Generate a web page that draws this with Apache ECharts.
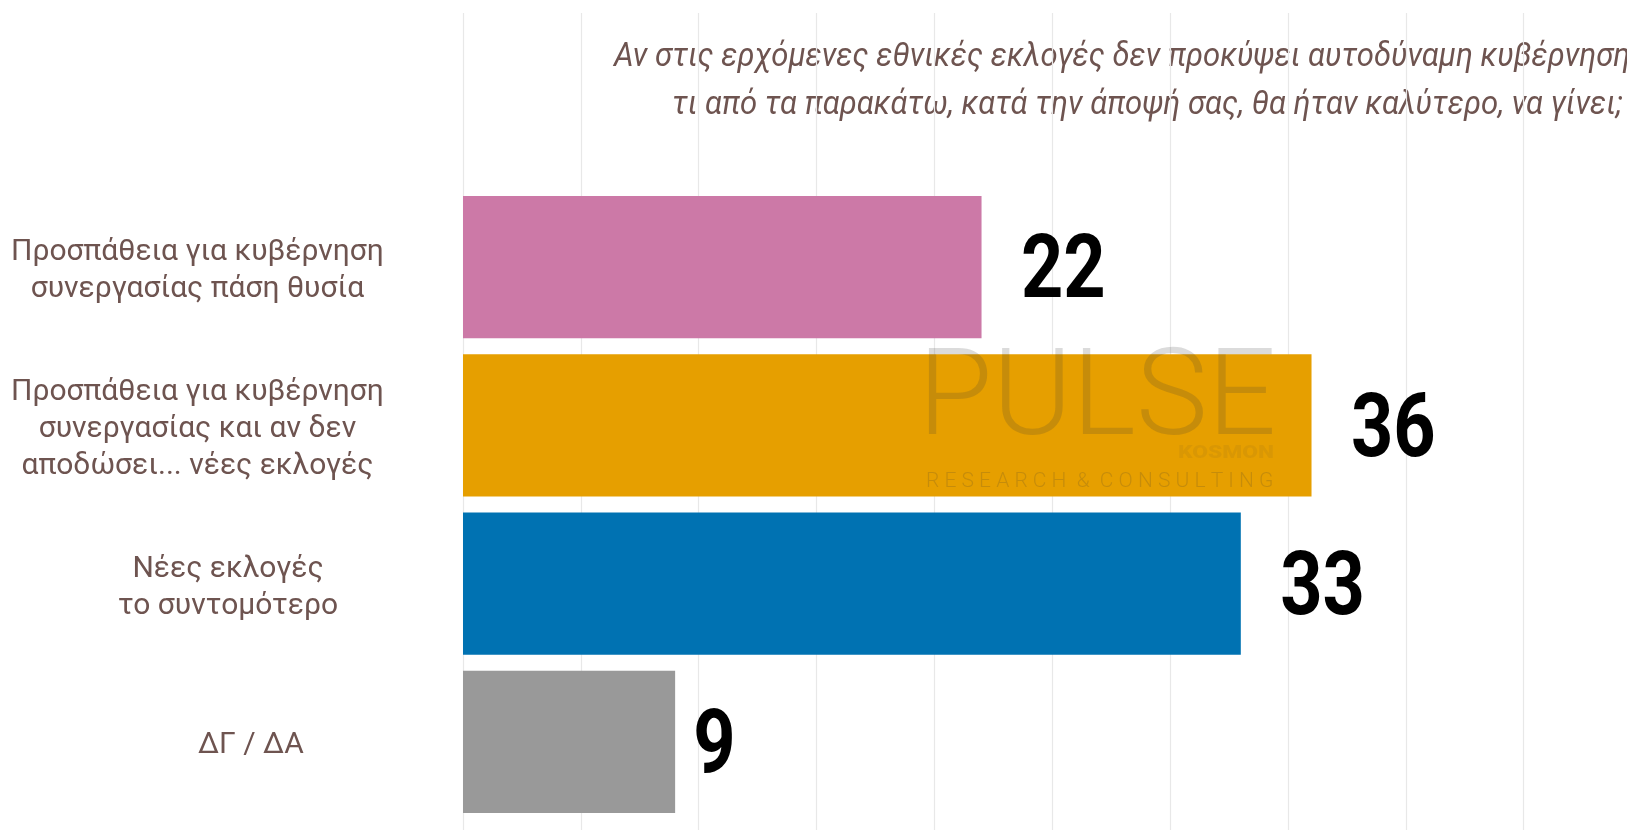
<!DOCTYPE html>
<html lang="el">
<head>
    <meta charset="UTF-8">
    <title>Pulse</title>
    <script src="https://cdn.jsdelivr.net/npm/echarts@6/dist/echarts.min.js"></script>
    <style>
        html, body { margin: 0; padding: 0; background: #fff; }
        #main { width: 1627px; height: 830px; }
    </style>
</head>
<body>
<div id="main"></div>
<script type="text/javascript">
    // data
    var categories = [
        'Προσπάθεια για κυβέρνηση\nσυνεργασίας πάση θυσία',
        'Προσπάθεια για κυβέρνηση\nσυνεργασίας και αν δεν\nαποδώσει... νέες εκλογές',
        'Νέες εκλογές\nτο συντομότερο',
        'ΔΓ / ΔΑ'
    ];
    var values = [22, 36, 33, 9];
    var barColors = ['#CC79A7', '#E69F00', '#0072B2', '#999999'];
    var titleLines = [
        'Αν στις ερχόμενες εθνικές εκλογές δεν προκύψει αυτοδύναμη κυβέρνηση,',
        'τι από τα παρακάτω, κατά την άποψή σας, θα ήταν καλύτερο, να γίνει;'
    ];

    var valueFont = 'bold 89px Roboto';
    var valueScale = 0.83;   // condensed look
    var labelFont = '30px Roboto';
    var textColor = '#6e5450';

    var ctx = document.createElement('canvas').getContext('2d');
    function textWidth(s, font) {
        ctx.font = font;
        return ctx.measureText(s).width;
    }
    // widest line of a multi-line label
    function blockWidth(s) {
        return Math.max.apply(null, s.split('\n').map(function (l) {
            return textWidth(l, labelFont);
        }));
    }

    var myChart = echarts.init(document.getElementById('main'));

    // 50 units wide, the right part falls outside the picture
    var plotWidth = 1178.5;

    var option = {
        animation: false,
        backgroundColor: '#fff',
        grid: [
            {left: 463, width: plotWidth, top: 13, bottom: 0, outerBoundsMode: 'none'},
            {left: 463, width: plotWidth, top: 188, bottom: 9, outerBoundsMode: 'none'}
        ],
        xAxis: [
            {
                gridIndex: 0, type: 'value', min: 0, max: 50, interval: 5,
                axisLine: {show: false}, axisTick: {show: false}, axisLabel: {show: false},
                splitLine: {show: true, lineStyle: {color: '#e8e8e8', width: 1.2}}
            },
            {
                gridIndex: 1, type: 'value', min: 0, max: 50, interval: 5,
                axisLine: {show: false}, axisTick: {show: false}, axisLabel: {show: false},
                splitLine: {show: false}
            }
        ],
        yAxis: [
            {gridIndex: 0, type: 'value', show: false},
            {
                gridIndex: 1, type: 'category', inverse: true,
                data: categories,
                axisLine: {show: false}, axisTick: {show: false},
                splitLine: {show: false},
                axisLabel: {show: false}
            }
        ],
        series: [
            {
                type: 'bar',
                xAxisIndex: 1,
                yAxisIndex: 1,
                barCategoryGap: '10%',
                data: values.map(function (v, i) {
                    return {value: v, itemStyle: {color: barColors[i]}};
                })
            },
            {
                // value labels, placed half their own width past the bar end
                type: 'custom',
                xAxisIndex: 1,
                yAxisIndex: 1,
                clip: false,
                data: values.map(function (v, i) { return [v, i]; }),
                renderItem: function (params, api) {
                    var v = api.value(0);
                    var pt = api.coord([v, api.value(1)]);
                    var w = textWidth(String(v), valueFont) * valueScale;
                    return {
                        type: 'text',
                        x: pt[0] + w / 2 - 3,
                        y: pt[1] + 8,
                        scaleX: valueScale,
                        style: {text: String(v), font: valueFont, fill: '#000', verticalAlign: 'middle'}
                    };
                }
            },
            {
                // category labels: lines centred, block anchored at 70% of its width
                type: 'custom',
                xAxisIndex: 1,
                yAxisIndex: 1,
                clip: false,
                silent: true,
                data: categories.map(function (c, i) { return [0, i]; }),
                renderItem: function (params, api) {
                    var c = categories[api.value(1)];
                    var pt = api.coord([0, api.value(1)]);
                    return {
                        type: 'text',
                        x: pt[0] - 191 - 0.2 * blockWidth(c),
                        y: pt[1] + 4,
                        style: {
                            text: c, font: labelFont, fill: textColor,
                            align: 'center', verticalAlign: 'middle', lineHeight: 37
                        }
                    };
                }
            }
        ],
        graphic: [
            {
                type: 'text', x: 614, y: 58, scaleX: 0.94,
                style: {text: titleLines[0], fill: textColor, font: 'italic 33px Roboto', verticalAlign: 'middle'}
            },
            {
                type: 'text', x: 672, y: 106, scaleX: 0.94,
                style: {text: titleLines[1], fill: textColor, font: 'italic 33px Roboto', verticalAlign: 'middle'}
            },
            // watermark
            {
                type: 'text', x: 918, y: 404, z: 100,
                style: {text: 'PULSE', fill: 'rgba(57,57,57,0.18)', font: '300 121px Roboto', verticalAlign: 'middle'}
            },
            {
                type: 'text', x: 1178, y: 453, z: 100, scaleX: 1.2,
                style: {text: 'KOSMON', fill: 'rgba(57,57,57,0.07)', font: '900 19px Roboto', verticalAlign: 'middle'}
            },
            {
                type: 'text', x: 926, y: 482, z: 100,
                style: {text: 'R E S E A R C H  &  C O N S U L T I N G', fill: 'rgba(57,57,57,0.18)', font: '300 21px Roboto', verticalAlign: 'middle'}
            }
        ]
    };

    myChart.setOption(option);
</script>
</body>
</html>
